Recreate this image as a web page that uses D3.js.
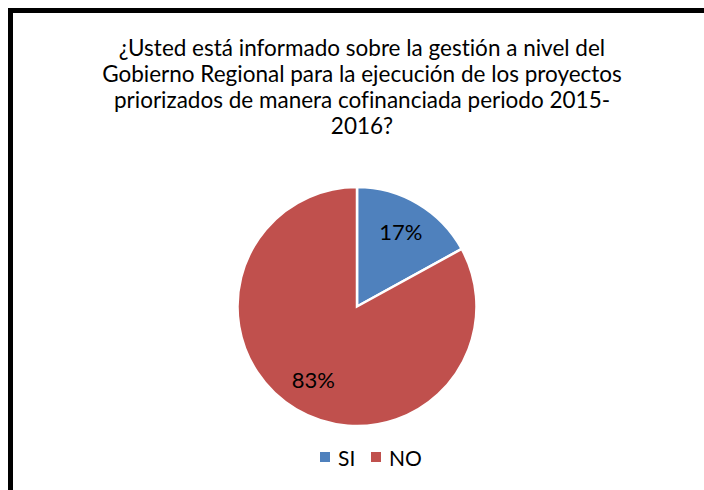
<!DOCTYPE html>
<html>
<head>
<meta charset="utf-8">
<script src="https://cdn.jsdelivr.net/npm/d3@7"></script>
<style>
  body { margin: 0; background: #fff; }
  svg { display: block; font-family: Lato, "Open Sans", sans-serif; font-variant-ligatures: none; }
</style>
</head>
<body>
<div id="chart"></div>
<script>
// data
var categories = ["SI", "NO"];
var values = [17, 83];
var colors = ["#4F81BD", "#C0504D"];
var titleLines = [
    "¿Usted está informado sobre la gestión a nivel del",
    "Gobierno Regional para la ejecución de los proyectos",
    "priorizados de manera cofinanciada periodo 2015-",
    "2016?"
];

var width = 704, height = 490;
var svg = d3.select("#chart").append("svg")
    .attr("width", width)
    .attr("height", height);

// frame (only left & top visible, chart continues past the window)
svg.append("rect")
    .attr("x", 10.5).attr("y", 10.5)
    .attr("width", 720).attr("height", 520)
    .style("fill", "#fff")
    .style("stroke", "#000")
    .style("stroke-width", 5);

// title
svg.append("g")
    .selectAll("text")
    .data(titleLines)
    .enter().append("text")
    .attr("x", 362)
    .attr("y", function(d, i) { return 56 + i * 26; })
    .style("text-anchor", "middle")
    .style("font-size", "22.5px")
    .style("fill", "#000")
    .text(function(d) { return d; });

var cx = 357, cy = 306.5, r = 119.5;

var pie = d3.pie().sort(null).value(function(d) { return d; });
var arc = d3.arc().innerRadius(0).outerRadius(r);
var labelArc = d3.arc().innerRadius(86).outerRadius(86);

var g = svg.append("g").attr("transform", "translate(" + cx + "," + cy + ")");
var arcs = pie(values);

g.selectAll("path")
    .data(arcs)
    .enter().append("path")
    .attr("d", arc)
    .style("fill", function(d, i) { return colors[i]; })
    .style("stroke", "#fff")
    .style("stroke-width", 2.5);

g.selectAll("text")
    .data(arcs)
    .enter().append("text")
    .attr("transform", function(d) { return "translate(" + labelArc.centroid(d) + ")"; })
    .attr("dy", "0.35em")
    .style("text-anchor", "middle")
    .style("font-size", "22px")
    .style("fill", "#000")
    .text(function(d) { return d.value + "%"; });

// legend
var legendX = [320, 371];
var legend = svg.append("g")
    .selectAll("g")
    .data(categories)
    .enter().append("g")
    .attr("transform", function(d, i) { return "translate(" + legendX[i] + ",452)"; });

legend.append("rect")
    .attr("width", 10).attr("height", 10)
    .style("fill", function(d, i) { return colors[i]; });

legend.append("text")
    .attr("x", 18)
    .attr("y", 14)
    .style("font-size", "21px")
    .style("fill", "#000")
    .text(function(d) { return d; });
</script>
</body>
</html>
